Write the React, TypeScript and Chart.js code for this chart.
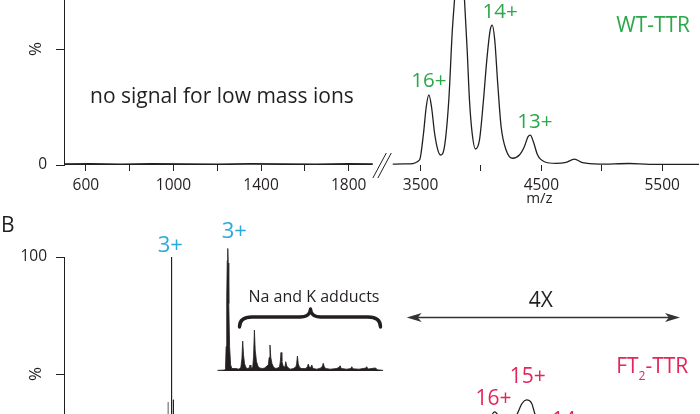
import React, { useEffect, useRef } from 'react';
import { Chart, registerables } from 'chart.js';

Chart.register(...registerables);

const INK = '#231f20';
const GREEN = '#2ba84a';
const RED = '#e5245a';
const CYAN = '#29a9e0';
const FONT = '"Open Sans", "Noto Sans", sans-serif';
Chart.defaults.font.family = FONT;

// ---------- axes ----------
const LEFT_RANGE = [500, 1941];
const RIGHT_RANGE = [3161, 5806];
const LEFT_TICKS = [600, 800, 1000, 1200, 1400, 1600, 1800];
const LEFT_TICK_LABELS = ['600', '', '1000', '', '1400', '', '1800'];
const RIGHT_TICKS = [3500, 4000, 4500, 5000, 5500];
const RIGHT_TICK_LABELS = ['3500', '', '4500', '', '5500'];
const Y_TICKS = [0, 50, 100];
const Y_TICK_LABELS = ['0', '', '100'];

// ---------- panel A : WT-TTR ----------
const WT_LOW_MZ = [500, 620, 760, 900, 1050, 1200, 1350, 1500, 1650, 1800, 1910];
const WT_LOW_INT = [0.4, 0.5, 0.3, 0.5, 0.4, 0.3, 0.5, 0.4, 0.3, 0.5, 0.4];
const WT_MZ = [3270, 3409, 3492, 3525, 3547, 3569, 3591, 3616, 3643, 3665, 3698, 3734, 3762, 3781, 3822, 3864, 3886, 3905, 3927, 3955, 3988, 4021, 4048, 4076, 4093, 4114, 4139, 4167, 4208, 4263, 4318, 4359, 4390, 4409, 4434, 4469, 4525, 4621, 4704, 4773, 4841, 4979, 5227, 5393, 5806];
const WT_INT = [0.4, 0.5, 2.2, 13.8, 25, 30.2, 25, 13.8, 6.5, 4.3, 7.9, 28, 57, 71, 100, 71, 49.6, 28, 13.8, 6.9, 10.8, 28, 45, 58, 60.3, 54, 35, 16.5, 6.5, 2.9, 4.3, 7.9, 12.2, 12.9, 10, 4.3, 1.4, 0.7, 1.1, 2.5, 1.0, 0.4, 0.65, 0.3, 0.3];
const WT_LABELS = ['16+', '14+', '13+'];
const WT_LABEL_MZ = [3569, 4093, 4409];
const WT_LABEL_INT = [30.2, 60.3, 12.9];

// ---------- panel B : FT2-TTR ----------
const FT_STICK_MZ = [500, 990.8, 991, 991.2, 998.9, 999.2, 999.5, 1941];
const FT_STICK_INT = [0.3, 0.3, 100, 0.3, 0.3, 39, 0.3, 0.3];
const FT_FAINT_MZ = [975.3, 975.5, 975.7];
const FT_FAINT_INT = [0, 38, 0];
const FT_MZ = [3161, 3400, 3700, 3900, 4000, 4060, 4112, 4170, 4240, 4300, 4340, 4376, 4420, 4445, 4530, 4610, 4700, 4770, 4860, 4950, 5040, 5150, 5300, 5500, 5806];
const FT_INT = [1, 2, 4, 10, 20, 29, 33.8, 30, 26, 33, 37.5, 38.9, 37.3, 33, 24, 22.5, 24.5, 21, 13, 10.5, 11.5, 8, 4, 2.5, 2];
const FT_LABELS = ['16+', '15+', '14+'];
const FT_LABEL_MZ = [4112, 4376, 4700];
const FT_LABEL_INT = [33.8, 38.9, 24.5];

// ---------- inset : 3+ ion with adducts ----------
const INSET_RANGE = [985.9, 1066.9];
const INSET_MZ = [985.9, 989.6, 989.9, 990.2, 990.5, 990.75, 991.0, 991.25, 991.5, 991.9, 992.4, 993.0, 995.0, 996.5, 997.4, 997.9, 998.3, 998.7, 999.2, 999.8, 1000.5, 1001.5, 1001.9, 1002.3, 1003.2, 1003.6, 1004.0, 1004.4, 1005.0, 1005.7, 1006.5, 1008, 1009, 1010.8, 1011.2, 1011.6, 1012.0, 1012.6, 1013.4, 1014.5, 1016.2, 1016.6, 1017.0, 1017.4, 1018.0, 1018.9, 1019.3, 1019.8, 1020.6, 1021.5, 1023, 1024.3, 1024.6, 1025.0, 1025.4, 1026.0, 1027, 1029, 1029.9, 1030.3, 1030.8, 1031.6, 1032.0, 1032.6, 1034.5, 1036.5, 1037.2, 1037.6, 1038.1, 1038.8, 1041, 1044, 1045.4, 1045.8, 1046.4, 1049, 1051.1, 1051.5, 1052.1, 1055, 1058.4, 1058.8, 1059.4, 1063.1, 1064, 1066.9];
const INSET_INT = [0.5, 0.8, 2, 20, 60, 90, 100, 88, 55, 20, 5, 2, 2, 1.5, 3, 10, 24.4, 13, 6, 3, 2, 2.5, 4.9, 2, 3, 12, 33.4, 17, 8, 4, 2.5, 2, 2.5, 5, 11, 21.2, 11, 6, 3, 2, 3, 7, 15.1, 8, 4, 3, 7.6, 4, 2.5, 1.5, 2, 3.5, 6, 12.2, 6, 3, 2, 2, 3.5, 5.7, 3, 3, 4.9, 2, 1.5, 2.5, 4, 6.3, 3.5, 2, 1.5, 2, 3, 4.3, 2, 1.5, 2, 3.5, 1.8, 1.5, 2.4, 3.5, 1.6, 2.5, 1, 0.5];

const pts = (xs: number[], ys: number[]) => xs.map((x, i) => ({ x, y: ys[i] }));

function text(ctx: CanvasRenderingContext2D, s: string, x: number, y: number, size: number, color: string, align: CanvasTextAlign = 'center') {
  ctx.save();
  ctx.font = `${size}px ${FONT}`;
  ctx.fillStyle = color;
  ctx.textAlign = align;
  ctx.textBaseline = 'alphabetic';
  ctx.fillText(s, x, y);
  ctx.restore();
}

function drawBreak(ctx: CanvasRenderingContext2D, bx: number, y0: number) {
  ctx.save();
  ctx.strokeStyle = INK;
  ctx.lineWidth = 1;
  [-6.7, -1.7].forEach((o) => {
    ctx.beginPath();
    ctx.moveTo(bx + o, y0 + 13);
    ctx.lineTo(bx + o + 13.4, y0 - 12);
    ctx.stroke();
  });
  ctx.restore();
}

function xScale(range: number[], ticks: number[], labels: string[], weight: number, title?: string) {
  return {
    type: 'linear',
    position: 'bottom',
    axis: 'x',
    stack: 'x',
    stackWeight: weight,
    min: range[0],
    max: range[1],
    border: { display: false },
    grid: { drawOnChartArea: false, drawTicks: true, tickLength: 6, tickColor: INK, tickWidth: 1 },
    ticks: {
      autoSkip: false, maxRotation: 0, minRotation: 0, padding: 5, color: INK, font: { size: 15.5 },
      callback: (v: number) => { const i = ticks.indexOf(v); return i >= 0 ? labels[i] : ''; },
    },
    afterBuildTicks: (s: any) => { s.ticks = ticks.map((v) => ({ value: v })); },
    afterFit: (s: any) => { s.height = 45; s.paddingLeft = 0; s.paddingRight = 0; },
    title: title
      ? { display: true, text: title, color: INK, font: { size: 15 }, padding: { top: 0, bottom: 2 } }
      : { display: false },
  };
}

function yScale() {
  return {
    type: 'linear',
    position: 'left',
    min: 0,
    max: 100,
    border: { display: true, color: INK, width: 1 },
    grid: { drawOnChartArea: false, tickLength: 8, tickColor: INK },
    ticks: {
      padding: 9, color: INK, font: { size: 15.5 },
      callback: (v: number) => { const i = Y_TICKS.indexOf(v); return i >= 0 ? Y_TICK_LABELS[i] : ''; },
    },
    afterBuildTicks: (s: any) => { s.ticks = Y_TICKS.map((v) => ({ value: v })); },
    afterFit: (s: any) => { s.width = 64; s.paddingTop = 0; s.paddingBottom = 0; },
    title: { display: true, text: '%', color: INK, font: { size: 17 }, padding: { top: 26, bottom: 0 } },
  };
}

function line(data: any[], axis: string, width: number, smooth: boolean, color = INK) {
  return {
    data, xAxisID: axis, yAxisID: 'y', borderColor: color, borderWidth: width,
    pointRadius: 0, fill: false, tension: 0,
    cubicInterpolationMode: smooth ? 'monotone' : 'default',
  };
}

function panelConfig(datasets: any[], padTop: number, annotate: (c: any) => void, rightTitle?: string) {
  return {
    type: 'line',
    data: { datasets },
    options: {
      animation: false, responsive: false, maintainAspectRatio: false, events: [],
      layout: { padding: { top: padTop, left: 0, right: 0, bottom: 0 } },
      plugins: { legend: { display: false }, tooltip: { enabled: false } },
      scales: {
        xl: xScale(LEFT_RANGE, LEFT_TICKS, LEFT_TICK_LABELS, 316),
        xr: xScale(RIGHT_RANGE, RIGHT_TICKS, RIGHT_TICK_LABELS, 320, rightTitle),
        y: yScale(),
      },
    },
    plugins: [{ id: 'annot', afterDraw: annotate }],
  };
}

// canvas offsets (page position of each canvas)
const TOP_Y = -90;
const BOT_Y = 200;
const INSET_X = 212;
const INSET_Y = 215;

function topConfig() {
  return panelConfig(
    [
      line(pts(WT_LOW_MZ, WT_LOW_INT), 'xl', 1.7, false),
      line(pts(WT_MZ, WT_INT), 'xr', 1.3, true),
    ],
    23,
    (chart: any) => {
      const { ctx, scales } = chart;
      const xr = scales.xr, y = scales.y;
      drawBreak(ctx, xr.left, y.getPixelForValue(0));
      const dx = [0, 8, 4.5];
      WT_LABELS.forEach((s, i) =>
        text(ctx, s, xr.getPixelForValue(WT_LABEL_MZ[i]) + dx[i], y.getPixelForValue(WT_LABEL_INT[i]) - 7.5, 20.5, GREEN));
      text(ctx, 'no signal for low mass ions', 90, 103.3 - TOP_Y, 21, INK, 'left');
      text(ctx, 'WT-TTR', 690, 31.7 - TOP_Y, 21, GREEN, 'right');
    },
    'm/z',
  );
}

function bottomConfig() {
  return panelConfig(
    [
      line(pts(FT_FAINT_MZ, FT_FAINT_INT), 'xl', 1, false, '#8a8a8a'),
      line(pts(FT_STICK_MZ, FT_STICK_INT), 'xl', 1, false),
      line(pts(FT_MZ, FT_INT), 'xr', 1.3, true),
    ],
    57,
    (chart: any) => {
      const { ctx, scales } = chart;
      const xl = scales.xl, xr = scales.xr, y = scales.y;
      drawBreak(ctx, xr.left, y.getPixelForValue(0));
      text(ctx, 'B', 1, 232 - BOT_Y, 21, INK, 'left');
      text(ctx, '3+', xl.getPixelForValue(991) - 1.2, y.getPixelForValue(100) - 5.3, 22, CYAN);
      // 4X double arrow
      const ay = 317.5 - BOT_Y, x1 = 406.7, x2 = 680;
      ctx.save();
      ctx.strokeStyle = '#333';
      ctx.fillStyle = '#333';
      ctx.lineWidth = 1.3;
      ctx.beginPath();
      ctx.moveTo(x1 + 8, ay);
      ctx.lineTo(x2 - 8, ay);
      ctx.stroke();
      ctx.beginPath();
      ctx.moveTo(x1, ay); ctx.lineTo(x1 + 15, ay - 4.5); ctx.lineTo(x1 + 11, ay); ctx.lineTo(x1 + 15, ay + 4.5); ctx.closePath();
      ctx.moveTo(x2, ay); ctx.lineTo(x2 - 15, ay - 4.5); ctx.lineTo(x2 - 11, ay); ctx.lineTo(x2 - 15, ay + 4.5); ctx.closePath();
      ctx.fill();
      ctx.restore();
      text(ctx, '4X', 540.8, 306.7 - BOT_Y, 21, INK);
      // FT2-TTR with subscript
      ctx.save();
      ctx.font = `21px ${FONT}`;
      const w1 = ctx.measureText('FT').width, w3 = ctx.measureText('-TTR').width;
      ctx.font = `12px ${FONT}`;
      const w2 = ctx.measureText('2').width;
      ctx.restore();
      const sx = 688.3 - (w1 + w2 + w3);
      text(ctx, 'FT', sx, 373 - BOT_Y, 21, RED, 'left');
      text(ctx, '2', sx + w1, 380 - BOT_Y, 12, RED, 'left');
      text(ctx, '-TTR', sx + w1 + w2, 373 - BOT_Y, 21, RED, 'left');
      const dx = [-1, 1.3, 4], dy = [-7, -16.7, -7];
      FT_LABELS.forEach((s, i) =>
        text(ctx, s, xr.getPixelForValue(FT_LABEL_MZ[i]) + dx[i], y.getPixelForValue(FT_LABEL_INT[i]) + dy[i], 21, RED));
    },
  );
}

function insetConfig() {
  return {
    type: 'line',
    data: {
      datasets: [{
        data: pts(INSET_MZ, INSET_INT), borderColor: INK, backgroundColor: INK, borderWidth: 0.8,
        pointRadius: 0, fill: 'origin', tension: 0,
      }],
    },
    options: {
      animation: false, responsive: false, maintainAspectRatio: false, events: [],
      layout: { padding: { left: 5.3, right: 8.7, top: 33.3, bottom: 4 } },
      plugins: { legend: { display: false }, tooltip: { enabled: false } },
      scales: {
        x: { type: 'linear', display: false, min: INSET_RANGE[0], max: INSET_RANGE[1] },
        y: { type: 'linear', display: false, min: 0, max: 100 },
      },
    },
    plugins: [{
      id: 'insetAnnot',
      afterDraw: (chart: any) => {
        const { ctx, scales } = chart;
        text(ctx, '3+', scales.x.getPixelForValue(991) + 6.5, scales.y.getPixelForValue(100) - 10, 22, CYAN);
        text(ctx, 'Na and K adducts', 314 - INSET_X, 301.7 - INSET_Y, 16, INK);
        ctx.save();
        ctx.strokeStyle = INK;
        ctx.lineWidth = 3.4;
        ctx.lineCap = 'round';
        ctx.lineJoin = 'round';
        ctx.beginPath();
        ctx.moveTo(27.5, 112);
        ctx.quadraticCurveTo(27.5, 102, 40, 102);
        ctx.lineTo(88, 102);
        ctx.quadraticCurveTo(98, 102, 98.5, 94);
        ctx.quadraticCurveTo(99, 102, 109, 102);
        ctx.lineTo(156, 102);
        ctx.quadraticCurveTo(168.5, 102, 168.5, 112);
        ctx.stroke();
        ctx.restore();
      },
    }],
  };
}

function ChartCanvas({ make, left, top, width, height }: { make: () => any; left: number; top: number; width: number; height: number }) {
  const ref = useRef<HTMLCanvasElement>(null);
  useEffect(() => {
    const chart = new Chart(ref.current as HTMLCanvasElement, make());
    let alive = true;
    if ((document as any).fonts && (document as any).fonts.ready) {
      (document as any).fonts.ready.then(() => { if (alive) chart.update(); });
    }
    return () => { alive = false; chart.destroy(); };
  }, []);
  return (
    <canvas
      ref={ref}
      width={width}
      height={height}
      style={{ position: 'absolute', left, top, width, height }}
    />
  );
}

export default function App() {
  return (
    <div style={{ position: 'fixed', left: 0, top: 0, width: 700, height: 414, overflow: 'hidden', background: '#fff' }}>
      <ChartCanvas make={topConfig} left={0} top={TOP_Y} width={700} height={300} />
      <ChartCanvas make={bottomConfig} left={0} top={BOT_Y} width={700} height={336} />
      <ChartCanvas make={insetConfig} left={INSET_X} top={INSET_Y} width={180} height={160} />
    </div>
  );
}
